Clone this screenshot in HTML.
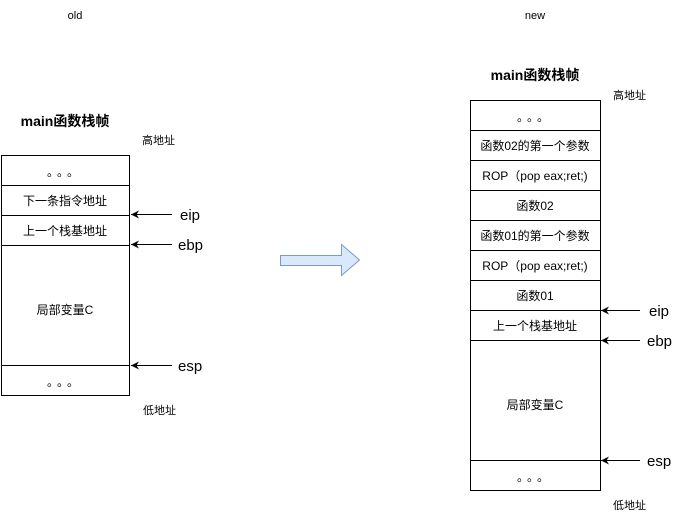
<!DOCTYPE html>
<html><head><meta charset="utf-8"><style>
body{margin:0;background:#fff}
svg text{font-family:"Liberation Sans","Noto Sans CJK SC",sans-serif;fill:#000}
</style></head><body>
<svg width="675" height="520" viewBox="0 0 675 520" xmlns="http://www.w3.org/2000/svg">
<defs><marker id="a" markerWidth="10" markerHeight="10" refX="8" refY="4.5" orient="auto" markerUnits="userSpaceOnUse"><path d="M8,4.5 L0,0.5 L2.5,4.5 L0,8.5 Z" fill="#000"/></marker></defs>
<text x="75" y="19" font-size="11" text-anchor="middle">old</text>
<text x="535" y="19" font-size="11" text-anchor="middle">new</text>
<text x="65" y="126" font-size="14" font-weight="bold" text-anchor="middle">main函数栈帧</text>
<text x="535" y="80" font-size="14" font-weight="bold" text-anchor="middle">main函数栈帧</text>
<text x="142" y="144" font-size="11">高地址</text>
<text x="143" y="414" font-size="11">低地址</text>
<text x="613" y="99" font-size="11">高地址</text>
<text x="613" y="509" font-size="11">低地址</text>
<g fill="#fff" stroke="#000" stroke-width="1">
<rect x="1.5" y="155.5" width="128" height="240"/>
<rect x="470.5" y="100.5" width="130" height="390"/>
</g>
<g stroke="#000" stroke-width="1">
<line x1="1.5" y1="185.5" x2="129.5" y2="185.5"/>
<line x1="1.5" y1="215.5" x2="129.5" y2="215.5"/>
<line x1="1.5" y1="245.5" x2="129.5" y2="245.5"/>
<line x1="1.5" y1="365.5" x2="129.5" y2="365.5"/>
<line x1="470.5" y1="130.5" x2="600.5" y2="130.5"/>
<line x1="470.5" y1="160.5" x2="600.5" y2="160.5"/>
<line x1="470.5" y1="190.5" x2="600.5" y2="190.5"/>
<line x1="470.5" y1="220.5" x2="600.5" y2="220.5"/>
<line x1="470.5" y1="250.5" x2="600.5" y2="250.5"/>
<line x1="470.5" y1="280.5" x2="600.5" y2="280.5"/>
<line x1="470.5" y1="310.5" x2="600.5" y2="310.5"/>
<line x1="470.5" y1="340.5" x2="600.5" y2="340.5"/>
<line x1="470.5" y1="460.5" x2="600.5" y2="460.5"/>
<line x1="172" y1="214.5" x2="131" y2="214.5" marker-end="url(#a)"/>
<line x1="172" y1="244.5" x2="131" y2="244.5" marker-end="url(#a)"/>
<line x1="172" y1="365.5" x2="131" y2="365.5" marker-end="url(#a)"/>
<line x1="640" y1="310.5" x2="601" y2="310.5" marker-end="url(#a)"/>
<line x1="640" y1="340.5" x2="601" y2="340.5" marker-end="url(#a)"/>
<line x1="640" y1="460.5" x2="601" y2="460.5" marker-end="url(#a)"/>
</g>
<g font-size="12" text-anchor="middle">
<text x="65" y="176" letter-spacing="4">。。。</text>
<text x="65" y="205">下一条指令地址</text>
<text x="65" y="235">上一个栈基地址</text>
<text x="65" y="314">局部变量C</text>
<text x="65" y="386" letter-spacing="4">。。。</text>
<text x="535" y="121" letter-spacing="4">。。。</text>
<text x="535" y="150">函数02的第一个参数</text>
<text x="535" y="180">ROP（pop eax;ret;)</text>
<text x="535" y="210">函数02</text>
<text x="535" y="240">函数01的第一个参数</text>
<text x="535" y="270">ROP（pop eax;ret;)</text>
<text x="535" y="300">函数01</text>
<text x="535" y="330">上一个栈基地址</text>
<text x="535" y="409">局部变量C</text>
<text x="535" y="481" letter-spacing="4">。。。</text>
</g>
<g font-size="15">
<text x="180" y="220">eip</text>
<text x="178" y="250">ebp</text>
<text x="178" y="371">esp</text>
<text x="649" y="316">eip</text>
<text x="647" y="346">ebp</text>
<text x="647" y="466">esp</text>
</g>
<path d="M280.5,255.5 H341.5 V244.5 L359.5,260 L341.5,275.5 V265.5 H280.5 Z" fill="#dae8fc" stroke="#7d9ac6" stroke-width="1"/>
</svg>
</body></html>
